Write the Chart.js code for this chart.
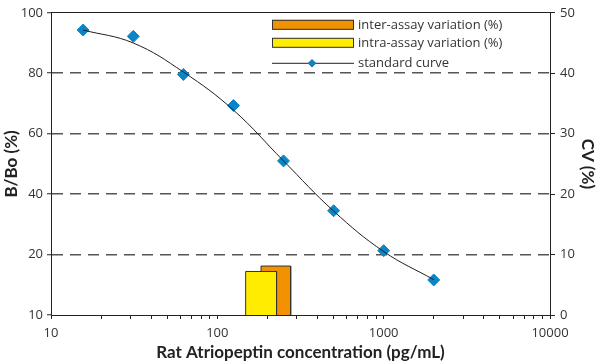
<!DOCTYPE html>
<html>
<head>
<meta charset="utf-8">
<script src="https://cdn.jsdelivr.net/npm/chart.js@4/dist/chart.umd.min.js"></script>
<style>
  html, body { margin: 0; padding: 0; background: #fff; }
  #box { width: 600px; height: 364px; }
</style>
</head>
<body>
<div id="box"><canvas id="atriopeptin"></canvas></div>
<script>
const concentrations = [15.6, 31.25, 62.5, 125, 250, 500, 1000, 2000]; // pg/mL - x axis
const bBo = [94.3, 92.2, 79.6, 69.3, 51.0, 34.5, 21.3, 11.6]; // measured standards (B/Bo %)
const fitCurve = [94.3, 90.0, 80.4, 67.8, 51.0, 34.4, 21.0, 11.7]; // fitted curve read at the same x
const intraRange = [148, 227]; // pg/mL span of the intra-assay bar
const intraCV = 7.2; // %
const interRange = [183, 276]; // pg/mL span of the inter-assay bar
const interCV = 8.1; // %
const leftTickLabels = ['10', '20', '40', '60', '80', '100']; // labels as printed on B/Bo axis
const xDecades = [10, 100, 1000, 10000]; // labelled x ticks

const FONT = '"Open Sans", Lato, sans-serif';
const TITLE_FONT = 'Lato, "Open Sans", sans-serif';
const BLUE = '#0a86c8';
const ORANGE = '#f39200';
const YELLOW = '#ffec00';

// minor ticks of the log axis (1..9 in each decade)
const xTicks = [];
xDecades.slice(0, -1).forEach(d => { for (let k = 1; k < 10; k++) xTicks.push(d * k); });
xTicks.push(xDecades[xDecades.length - 1]);

// a bar spanning a concentration range, drawn as a filled line on the CV axis
function rangeBar(range, cv) {
  return [
    { x: range[0], y: 0 }, { x: range[0], y: cv },
    { x: range[1], y: cv }, { x: range[1], y: 0 }
  ];
}

// legend drawn inside the plot, top right
const insideLegend = {
  id: 'insideLegend',
  afterDatasetsDraw(chart) {
    const { ctx, chartArea } = chart;
    const x0 = chartArea.right - 278;
    const w = 82;
    const rows = [
      { y: chartArea.top + 12, ds: chart.data.datasets[3], kind: 'box' },
      { y: chartArea.top + 30, ds: chart.data.datasets[2], kind: 'box' },
      { y: chartArea.top + 50, ds: chart.data.datasets[0], kind: 'line' }
    ];
    ctx.save();
    rows.forEach(r => {
      if (r.kind === 'box') {
        ctx.fillStyle = r.ds.backgroundColor;
        ctx.fillRect(x0, r.y - 5, w, 10);
        ctx.strokeStyle = '#333';
        ctx.lineWidth = 1;
        ctx.strokeRect(x0 + 0.5, r.y - 4.5, w - 1, 9);
      } else {
        ctx.strokeStyle = '#222';
        ctx.lineWidth = 1;
        ctx.beginPath();
        ctx.moveTo(x0, r.y + 0.5);
        ctx.lineTo(x0 + w, r.y + 0.5);
        ctx.stroke();
        Chart.helpers.drawPoint(ctx, { pointStyle: 'rectRot', radius: 4, borderWidth: 0 }, x0 + 40, r.y + 0.5);
        ctx.fillStyle = BLUE;
        ctx.fill();
      }
      ctx.fillStyle = '#333';
      ctx.font = '13px ' + FONT;
      ctx.textBaseline = 'middle';
      ctx.textAlign = 'left';
      ctx.fillText(r.ds.label, x0 + w + 4, r.y);
    });
    ctx.restore();
  }
};

const ctx = document.getElementById('atriopeptin').getContext('2d');

new Chart(ctx, {
  type: 'line',
  data: {
    datasets: [
      {
        label: 'standard curve',
        data: concentrations.map((c, i) => ({ x: c, y: fitCurve[i] })),
        borderColor: '#1e1e1e',
        borderWidth: 1,
        pointRadius: 0,
        tension: 0.4,
        fill: false,
        yAxisID: 'y'
      },
      {
        label: 'standards',
        data: concentrations.map((c, i) => ({ x: c, y: bBo[i] })),
        showLine: false,
        pointStyle: 'rectRot',
        pointRadius: 6,
        pointBackgroundColor: BLUE,
        pointBorderColor: BLUE,
        pointBorderWidth: 1,
        yAxisID: 'y'
      },
      {
        label: 'intra-assay variation (%)',
        data: rangeBar(intraRange, intraCV),
        backgroundColor: YELLOW,
        borderColor: '#333',
        borderWidth: 1,
        pointRadius: 0,
        tension: 0,
        fill: 'origin',
        yAxisID: 'yCV'
      },
      {
        label: 'inter-assay variation (%)',
        data: rangeBar(interRange, interCV),
        backgroundColor: ORANGE,
        borderColor: '#333',
        borderWidth: 1,
        pointRadius: 0,
        tension: 0,
        fill: 'origin',
        yAxisID: 'yCV'
      }
    ]
  },
  options: {
    responsive: true,
    maintainAspectRatio: false,
    animation: false,
    layout: { padding: { top: 11, left: 0, right: 0, bottom: 0 } },
    plugins: {
      legend: { display: false },
      tooltip: { enabled: false }
    },
    scales: {
      x: {
        type: 'logarithmic',
        position: 'bottom',
        min: 10,
        max: 10000,
        afterBuildTicks: scale => { scale.ticks = xTicks.map(v => ({ value: v })); },
        afterFit: scale => { scale.height = 49; },
        ticks: {
          autoSkip: false,
          maxRotation: 0,
          padding: 6,
          color: '#333',
          font: { family: FONT, size: 13 },
          callback: v => xDecades.includes(v) ? String(v) : ''
        },
        grid: { drawOnChartArea: false, tickLength: 4, color: '#222' },
        border: { color: '#222', width: 1 },
        title: {
          display: true,
          text: 'Rat Atriopeptin concentration (pg/mL)',
          color: '#222',
          font: { family: TITLE_FONT, size: 17, weight: 'bold' },
          padding: { top: 0, bottom: 1 }
        }
      },
      xTop: {
        type: 'logarithmic',
        position: 'top',
        min: 10,
        max: 10000,
        afterFit: scale => { scale.height = 0; },
        ticks: { display: false },
        grid: { display: false },
        border: { color: '#222', width: 1 }
      },
      y: {
        position: 'left',
        min: 0,
        max: 100,
        afterFit: scale => { scale.width = 51; },
        ticks: {
          stepSize: 20,
          padding: 4,
          color: '#333',
          font: { family: FONT, size: 13 },
          callback: (v, i) => leftTickLabels[i]
        },
        grid: {
          color: c => (c.tick && (c.tick.value === 0 || c.tick.value === 100)) ? 'rgba(0,0,0,0)' : '#555',
          lineWidth: 1.5,
          tickLength: 4,
          tickColor: '#222',
          tickWidth: 1
        },
        border: { color: '#222', width: 1, dash: [11, 7] },
        title: {
          display: true,
          text: 'B/Bo (%)',
          color: '#222',
          font: { family: TITLE_FONT, size: 17, weight: 'bold' },
          padding: { top: 1, bottom: 0 }
        }
      },
      yCV: {
        position: 'right',
        min: 0,
        max: 50,
        afterFit: scale => { scale.width = 50; },
        ticks: {
          stepSize: 10,
          padding: 5,
          color: '#333',
          font: { family: FONT, size: 13 }
        },
        grid: { drawOnChartArea: false, tickLength: 5, color: '#222' },
        border: { color: '#222', width: 1 },
        title: {
          display: true,
          text: 'CV (%)',
          color: '#222',
          font: { family: TITLE_FONT, size: 17, weight: 'bold' },
          padding: { top: 2, bottom: 0 }
        }
      }
    }
  },
  plugins: [insideLegend]
});
</script>
</body>
</html>
